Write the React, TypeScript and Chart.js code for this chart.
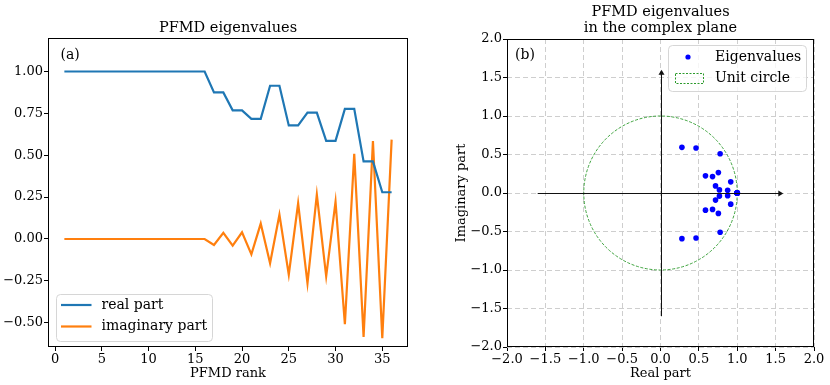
import React, { useEffect, useRef } from "react";
import { Chart, registerables } from "chart.js";

Chart.register(...registerables);

// ---------------- data ----------------
const ranks = [
  1, 2, 3, 4, 5, 6, 7, 8, 9, 10, 11, 12, 13, 14, 15, 16, 17, 18, 19, 20, 21, 22, 23, 24, 25, 26, 27, 28, 29, 30, 31, 32,
  33, 34, 35, 36,
];
const realPart = [
  1, 1, 1, 1, 1, 1, 1, 1, 1, 1, 1, 1, 1, 1, 1, 1, 0.875, 0.875, 0.768, 0.768, 0.717, 0.717, 0.915, 0.915, 0.678, 0.678,
  0.754, 0.754, 0.586, 0.586, 0.777, 0.777, 0.463, 0.463, 0.279, 0.279,
];
const imagPart = [
  0, 0, 0, 0, 0, 0, 0, 0, 0, 0, 0, 0, 0, 0, 0, 0, -0.036, 0.036, -0.04, 0.04, -0.092, 0.092, -0.145, 0.145, -0.213, 0.213,
  -0.265, 0.265, -0.223, 0.223, -0.509, 0.509, -0.585, 0.585, -0.593, 0.593,
];
const rankTicks = [0, 5, 10, 15, 20, 25, 30, 35];
const valueTicks = [-0.5, -0.25, 0, 0.25, 0.5, 0.75, 1.0];
const planeTicks = [-2, -1.5, -1, -0.5, 0, 0.5, 1, 1.5, 2];
const arrowExtent = 1.6;
const circleRadius = 1;

const leftTitle = "PFMD eigenvalues";
const rightTitle = ["PFMD eigenvalues", "in the complex plane"];
const leftLegend = ["real part", "imaginary part"];
const rightLegend = ["Eigenvalues", "Unit circle"];

// ---------------- styles ----------------
const FONT = "'DejaVu Serif', serif";
const BLUE = "#1f77b4";
const ORANGE = "#ff7f0e";
const GREEN = "#2b9a2b";

const fmt = (v: number, d: number) => {
  const s = Math.abs(v).toFixed(d);
  return v < -1e-9 ? "\u2212" + s : s;
};

const boxPlugin = {
  id: "boxPlugin",
  afterDraw(chart: any) {
    const { ctx, chartArea: a } = chart;
    ctx.save();
    ctx.strokeStyle = "#000";
    ctx.lineWidth = 1;
    ctx.strokeRect(a.left + 0.5, a.top + 0.5, a.right - a.left - 1, a.bottom - a.top - 1);
    ctx.restore();
  },
};

function roundRect(ctx: CanvasRenderingContext2D, x: number, y: number, w: number, h: number, r: number) {
  ctx.beginPath();
  ctx.moveTo(x + r, y);
  ctx.lineTo(x + w - r, y);
  ctx.quadraticCurveTo(x + w, y, x + w, y + r);
  ctx.lineTo(x + w, y + h - r);
  ctx.quadraticCurveTo(x + w, y + h, x + w - r, y + h);
  ctx.lineTo(x + r, y + h);
  ctx.quadraticCurveTo(x, y + h, x, y + h - r);
  ctx.lineTo(x, y + r);
  ctx.quadraticCurveTo(x, y, x + r, y);
  ctx.closePath();
}

const leftDecor = {
  id: "leftDecor",
  afterDraw(chart: any) {
    const { ctx, chartArea: a } = chart;
    ctx.save();
    ctx.fillStyle = "#000";
    ctx.font = `14.5px ${FONT}`;
    ctx.textAlign = "center";
    ctx.textBaseline = "alphabetic";
    ctx.fillText(leftTitle, (a.left + a.right) / 2, 32);
    ctx.textAlign = "left";
    ctx.textBaseline = "middle";
    ctx.font = `14px ${FONT}`;
    ctx.fillText("(a)", a.left + 12.5, 55);
    // legend
    const lx = a.left + 8.5, ly = 294.5, lw = 156, lh = 47;
    ctx.fillStyle = "rgba(255,255,255,0.8)";
    ctx.strokeStyle = "#d6d6d6";
    ctx.lineWidth = 1;
    roundRect(ctx, lx, ly, lw, lh, 4);
    ctx.fill();
    ctx.stroke();
    const rows = [305, 326.5];
    const cols = [BLUE, ORANGE];
    rows.forEach((y, i) => {
      ctx.strokeStyle = cols[i];
      ctx.lineWidth = 2.2;
      ctx.beginPath();
      ctx.moveTo(a.left + 13, y);
      ctx.lineTo(a.left + 43.5, y);
      ctx.stroke();
      ctx.fillStyle = "#000";
      ctx.font = `14px ${FONT}`;
      ctx.fillText(leftLegend[i], a.left + 53.5, y);
    });
    ctx.restore();
  },
};

const rightDecor = {
  id: "rightDecor",
  beforeDatasetsDraw(chart: any) {
    const { ctx } = chart;
    const xs = chart.scales.x, ys = chart.scales.y;
    const cx = xs.getPixelForValue(0), cy = ys.getPixelForValue(0);
    const rx = xs.getPixelForValue(circleRadius) - cx;
    const ry = cy - ys.getPixelForValue(circleRadius);
    ctx.save();
    ctx.strokeStyle = GREEN;
    ctx.lineWidth = 0.9;
    ctx.setLineDash([3, 1.6]);
    ctx.beginPath();
    ctx.ellipse(cx, cy, rx, ry, 0, 0, Math.PI * 2);
    ctx.stroke();
    ctx.restore();
  },
  afterDatasetsDraw(chart: any) {
    const { ctx } = chart;
    const xs = chart.scales.x, ys = chart.scales.y;
    const x0 = xs.getPixelForValue(-arrowExtent), x1 = xs.getPixelForValue(arrowExtent);
    const y0 = ys.getPixelForValue(-arrowExtent), y1 = ys.getPixelForValue(arrowExtent);
    const cx = Math.round(xs.getPixelForValue(0)) + 0.5, cy = Math.round(ys.getPixelForValue(0)) + 0.5;
    ctx.save();
    ctx.strokeStyle = "#111";
    ctx.fillStyle = "#111";
    ctx.lineWidth = 1;
    ctx.beginPath();
    ctx.moveTo(x0, cy);
    ctx.lineTo(x1 - 2, cy);
    ctx.moveTo(cx, y0);
    ctx.lineTo(cx, y1 + 2);
    ctx.stroke();
    // heads
    ctx.beginPath();
    ctx.moveTo(x1, cy);
    ctx.lineTo(x1 - 5, cy - 3);
    ctx.lineTo(x1 - 5, cy + 3);
    ctx.closePath();
    ctx.fill();
    ctx.beginPath();
    ctx.moveTo(cx, y1);
    ctx.lineTo(cx - 3, y1 + 5);
    ctx.lineTo(cx + 3, y1 + 5);
    ctx.closePath();
    ctx.fill();
    ctx.restore();
  },
  afterDraw(chart: any) {
    const { ctx, chartArea: a } = chart;
    const mid = (a.left + a.right) / 2;
    ctx.save();
    ctx.fillStyle = "#000";
    ctx.font = `14.5px ${FONT}`;
    ctx.textAlign = "center";
    ctx.textBaseline = "alphabetic";
    ctx.fillText(rightTitle[0], mid, 15.5);
    ctx.fillText(rightTitle[1], mid, 32);
    ctx.textAlign = "left";
    ctx.textBaseline = "middle";
    ctx.font = `14px ${FONT}`;
    ctx.fillText("(b)", a.left + 8, 55);
    // legend
    const lx = a.left + 161.5, ly = 45.5, lw = 138, lh = 46;
    ctx.fillStyle = "rgba(255,255,255,0.8)";
    ctx.strokeStyle = "#d6d6d6";
    ctx.lineWidth = 1;
    roundRect(ctx, lx, ly, lw, lh, 4);
    ctx.fill();
    ctx.stroke();
    ctx.fillStyle = "#0000ff";
    ctx.beginPath();
    ctx.arc(a.left + 181, 57, 2.6, 0, Math.PI * 2);
    ctx.fill();
    ctx.strokeStyle = GREEN;
    ctx.lineWidth = 1;
    ctx.setLineDash([2, 1.5]);
    ctx.strokeRect(a.left + 168.5, 73.5, 28, 10);
    ctx.setLineDash([]);
    ctx.fillStyle = "#000";
    ctx.font = `14px ${FONT}`;
    ctx.fillText(rightLegend[0], a.left + 208, 57);
    ctx.fillText(rightLegend[1], a.left + 208, 78.5);
    ctx.restore();
  },
};

function LeftPanel() {
  const ref = useRef<HTMLCanvasElement>(null);
  useEffect(() => {
    const chart = new Chart(ref.current as HTMLCanvasElement, {
      type: "line",
      data: {
        datasets: [
          {
            label: leftLegend[0],
            data: ranks.map((r, i) => ({ x: r, y: realPart[i] })),
            borderColor: BLUE,
            borderWidth: 2.2,
            pointRadius: 0,
            tension: 0,
          },
          {
            label: leftLegend[1],
            data: ranks.map((r, i) => ({ x: r, y: imagPart[i] })),
            borderColor: ORANGE,
            borderWidth: 2.2,
            pointRadius: 0,
            tension: 0,
          },
        ],
      },
      options: {
        responsive: false,
        animation: false,
        devicePixelRatio: 1,
        layout: { padding: { left: 0, top: 38, right: 7, bottom: 0 } },
        plugins: { legend: { display: false }, tooltip: { enabled: false }, title: { display: false } },
        scales: {
          x: {
            type: "linear",
            min: -0.75,
            max: 37.75,
            afterBuildTicks: (s: any) => {
              s.ticks = rankTicks.map((v) => ({ value: v }));
            },
            afterFit: (s: any) => {
              s.height = 38;
            },
            grid: { display: true, drawOnChartArea: false, drawTicks: true, tickLength: 4, color: "#000", tickColor: "#000" },
            border: { display: false },
            ticks: {
              color: "#000",
              font: { family: FONT, size: 13 },
              padding: 1,
              maxRotation: 0,
              autoSkip: false,
              callback: (v: any) => fmt(Number(v), 0),
            },
            title: {
              display: true,
              text: "PFMD rank",
              color: "#000",
              font: { family: FONT, size: 13 },
              padding: { top: 0, bottom: 4 },
            },
          },
          y: {
            type: "linear",
            min: -0.645,
            max: 1.2,
            afterBuildTicks: (s: any) => {
              s.ticks = valueTicks.map((v) => ({ value: v }));
            },
            afterFit: (s: any) => {
              s.width = 48;
            },
            grid: { display: true, drawOnChartArea: false, drawTicks: true, tickLength: 4, color: "#000", tickColor: "#000" },
            border: { display: false },
            ticks: {
              color: "#000",
              font: { family: FONT, size: 13 },
              padding: 1,
              autoSkip: false,
              callback: (v: any) => fmt(Number(v), 2),
            },
          },
        },
      } as any,
      plugins: [boxPlugin, leftDecor],
    });
    return () => chart.destroy();
  }, []);
  return <canvas ref={ref} width={415} height={385} style={{ position: "absolute", left: 0, top: 0, width: 415, height: 385 }} />;
}

function RightPanel() {
  const ref = useRef<HTMLCanvasElement>(null);
  useEffect(() => {
    const gridOpts = {
      display: true,
      drawOnChartArea: true,
      drawTicks: true,
      tickLength: 4,
      color: "#c8c8c8",
      lineWidth: 0.9,
      tickColor: "#000",
      tickWidth: 1,
      tickBorderDash: [],
    };
    const chart = new Chart(ref.current as HTMLCanvasElement, {
      type: "scatter",
      data: {
        datasets: [
          {
            label: rightLegend[0],
            data: realPart.map((r, i) => ({ x: r, y: imagPart[i] })),
            backgroundColor: "#0000ff",
            borderWidth: 0,
            pointRadius: 2.8,
          },
        ],
      },
      options: {
        responsive: false,
        animation: false,
        devicePixelRatio: 1,
        layout: { padding: { left: 0, top: 39, right: 16, bottom: 0 } },
        plugins: { legend: { display: false }, tooltip: { enabled: false }, title: { display: false } },
        scales: {
          x: {
            type: "linear",
            min: -2,
            max: 2,
            afterBuildTicks: (s: any) => {
              s.ticks = planeTicks.map((v) => ({ value: v }));
            },
            afterFit: (s: any) => {
              s.height = 38;
            },
            grid: gridOpts,
            border: { display: false, dash: [5, 3] },
            ticks: {
              color: "#000",
              font: { family: FONT, size: 13 },
              padding: 1,
              maxRotation: 0,
              autoSkip: false,
              callback: (v: any) => fmt(Number(v), 1),
            },
            title: {
              display: true,
              text: "Real part",
              color: "#000",
              font: { family: FONT, size: 13 },
              padding: { top: 0, bottom: 4 },
            },
          },
          y: {
            type: "linear",
            min: -2,
            max: 2,
            afterBuildTicks: (s: any) => {
              s.ticks = planeTicks.map((v) => ({ value: v }));
            },
            afterFit: (s: any) => {
              s.width = 92;
            },
            grid: gridOpts,
            border: { display: false, dash: [5, 3] },
            ticks: {
              color: "#000",
              font: { family: FONT, size: 13 },
              padding: 1,
              autoSkip: false,
              callback: (v: any) => fmt(Number(v), 1),
            },
            title: {
              display: true,
              text: "Imaginary part",
              color: "#000",
              font: { family: FONT, size: 13 },
              padding: { top: 39, bottom: 0 },
            },
          },
        },
      } as any,
      plugins: [boxPlugin, rightDecor],
    });
    return () => chart.destroy();
  }, []);
  return <canvas ref={ref} width={415} height={385} style={{ position: "absolute", left: 415, top: 0, width: 415, height: 385 }} />;
}

export default function App() {
  return (
    <div style={{ position: "fixed", left: 0, top: 0, width: 830, height: 385, background: "#fff", overflow: "hidden" }}>
      <LeftPanel />
      <RightPanel />
    </div>
  );
}
